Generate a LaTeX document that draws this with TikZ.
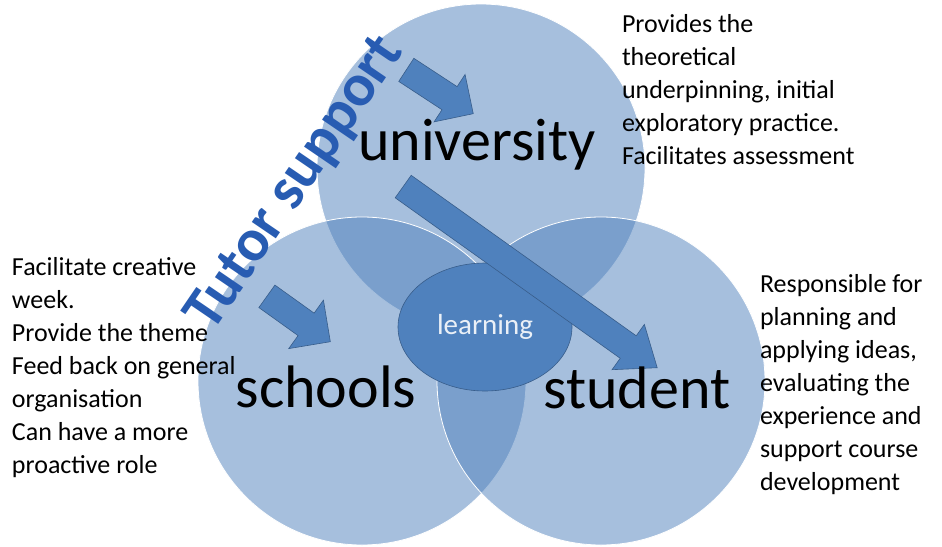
\documentclass[tikz,border=0pt]{standalone}
\usepackage{fontspec}
\setmainfont{Carlito}
\usetikzlibrary{shapes.geometric,shapes.arrows}
\definecolor{vennblue}{RGB}{79,129,189}
\definecolor{vennedge}{RGB}{56,93,138}
\definecolor{wordart}{RGB}{40,92,178}
\tikzset{
every node/.style={inner sep=0pt, outer sep=0pt},
venn/.style={circle, minimum size=328pt, fill=vennblue, fill opacity=0.5, draw=white, draw opacity=1, line width=0.8pt},
bigword/.style={font=\fontsize{60}{60}\selectfont, text=black, anchor=base},
note/.style={font=\fontsize{26}{33}\selectfont, align=left, anchor=north west},
blockarrow/.style={single arrow, draw=vennedge, fill=vennblue, line width=0.6pt, inner xsep=0pt, inner ysep=13.5pt},
}

\begin{document}
\begin{tikzpicture}[x=1pt, y=-1pt]
        \fill[white] (0,0) rectangle (942,546);
        \useasboundingbox (0,0) rectangle (942,546);

        % the three circles
        \node[venn] (uni) at (481,168) {};
        \node[venn] (school) at (362,381) {};
        \node[venn] (stud) at (601,381) {};

        \node[ellipse, minimum width=174pt, minimum height=128pt, fill=vennblue, draw=vennedge, line width=0.6pt,
              font=\fontsize{29}{29}\selectfont, text=white!88!vennblue] (learn) at (485,327) {learning};

        % block arrows
        \node[blockarrow, minimum height=80pt, single arrow head extend=14.5pt, rotate=-33.2] (touni) at (434,88) {};
        \node[blockarrow, minimum height=78pt, single arrow head extend=16pt, rotate=-35.6] (toschool) at (293,315) {};
        \node[blockarrow, minimum height=312pt, single arrow head extend=14pt, single arrow tip angle=76, rotate=-35.5] (tostud) at (523,272) {};

        \node[bigword] (uniword) at (477,160) {university};
        \node[bigword] (schoolword) at (326,407) {schools};
        \node[bigword] (studword) at (637,408) {student};

        \node[note] (uninote) at (622,14) {Provides the\\theoretical\\underpinning, initial\\exploratory practice.\\Facilitates assessment};
        \node[note] (schoolnote) at (12,257) {Facilitate creative\\week.\\Provide the theme\\Feed back on general\\organisation\\Can have a more\\proactive role};
        \node[note] (studnote) at (760,274) {Responsible for\\planning and\\applying ideas,\\evaluating the\\experience and\\support course\\development};

        \node[rotate=55.7, font=\bfseries\fontsize{60}{60}\selectfont, text=wordart] (tutor) at (296,184) {Tutor support};
    \end{tikzpicture}
\end{document}
